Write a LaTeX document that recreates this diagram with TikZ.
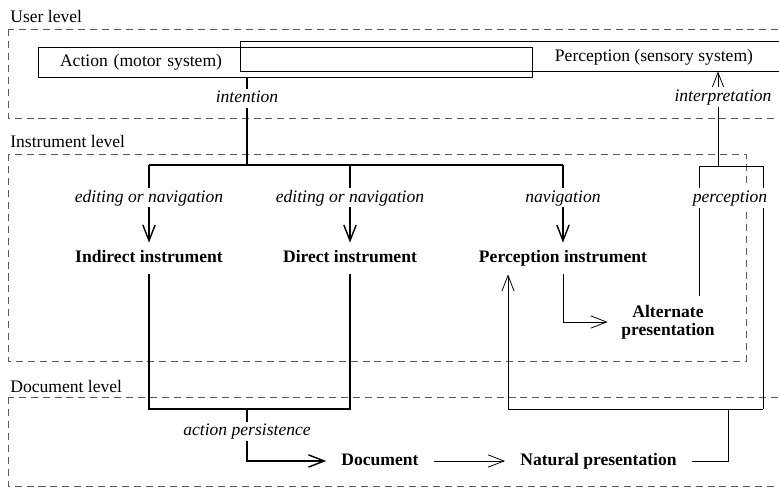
\documentclass[tikz,border=0pt]{standalone}
\usepackage{fontspec}
\setmainfont{Liberation Serif}
\usetikzlibrary{arrows.meta}

\begin{document}
\begin{tikzpicture}
    [
    x=0.02cm, y=-0.02cm
    , level/.style = {draw=black!65, line width=0.5pt, dash pattern=on 4pt off 2.8pt}
    , lvllbl/.style = {anchor=base west, inner sep=0pt}
    , sysbox/.style = {draw, line width=0.45pt, inner sep=0pt, minimum height=0.6cm}
    , instr/.style = {font=\bfseries, inner sep=0pt, text height=7pt, text depth=2pt, minimum height=0.62cm}
    , pres/.style = {font=\bfseries, inner xsep=8.5pt, inner ysep=0pt, text height=7pt, text depth=2pt}
    , lbl/.style = {font=\itshape, fill=white, inner sep=1pt, text height=7pt, text depth=2pt}
    , strong/.style = {line width=0.8pt}
    , weak/.style = {line width=0.45pt}
    , tip/.style = {-{Straight Barb[length=9pt,width=7pt]}}
    ]
\useasboundingbox (0,0) rectangle (779,488);

% levels
\draw[level] (8,29) rectangle (800,118);
\draw[level] (8,154) rectangle (746,361);
\draw[level] (8,397) rectangle (800,486);
\node[lvllbl] (userlvl) at (10,22) {User level};
\node[lvllbl] (instlvl) at (10,147) {Instrument level};
\node[lvllbl] (doclvl) at (10,392) {Document level};

% user
\node[sysbox, minimum width=11.6cm] (sense) at (530,56) {};
\node (sensetxt) at (654,57) {Perception (sensory system)};
\node[sysbox, align=left, text width=9cm, inner xsep=0.44cm] (action) at (285,62) {Action (motor system)};

% instruments
\node[instr] (indirect) at (149,258.5) {Indirect instrument};
\node[instr] (direct) at (350,258.5) {Direct instrument};
\node[instr] (percinst) at (563,258.5) {Perception instrument};
\node[font=\bfseries, inner sep=0pt, align=center, minimum width=2.4cm, minimum height=1.04cm] (altpres) at (668,322) {Alternate\\[-2pt]presentation};

% document
\node[pres] (document) at (380,461) {Document};
\node[pres] (natpres) at (598.5,461) {Natural presentation};

\coordinate (split) at (247,165);
\coordinate (merge) at (247,409);
\coordinate (fb) at (728,409);
\coordinate (fbup) at (508,409);
\coordinate (fbside) at (763,409);
\coordinate (percL) at (699,166);
\coordinate (percR) at (763,166);
\coordinate (percM) at (718,166);

\draw[strong] (action.south -| split) -- node[lbl, pos=0.24] (intent) {intention} (split);
\draw[strong] (indirect.north |- split) -- (percinst.north |- split);
\draw[strong, tip] (indirect.north |- split) -- node[lbl, pos=0.42] (edit1) {editing or navigation} (indirect.north);
\draw[strong, tip] (direct.north |- split) -- node[lbl, pos=0.42] (edit2) {editing or navigation} (direct.north);
\draw[strong, tip] (percinst.north |- split) -- node[lbl, pos=0.42] (navi) {navigation} (percinst.north);

\draw[strong] (indirect.south) |- (merge) -| (direct.south);
\draw[strong, tip] (merge) |- node[lbl, pos=0.215] (persist) {action persistence} (document.west);

\draw[weak, tip] (document.east) -- (natpres.west);
\draw[weak] (natpres.east) -| (fb);
\draw[weak] (fbup) -- (fbside);
\draw[weak, tip] (fbup) -- (fbup |- percinst.south);
\draw[weak] (fbside) -- (percR) -- (percL) -- (percL |- altpres.north);
\draw[weak, tip] (percinst.south) |- (altpres.west);
\draw[weak, tip] (percM) -- node[lbl, pos=0.73, xshift=0.1cm] (interp) {interpretation} (percM |- sense.south);
\node[lbl] (perclbl) at (730,198) {perception};
\end{tikzpicture}
\end{document}
